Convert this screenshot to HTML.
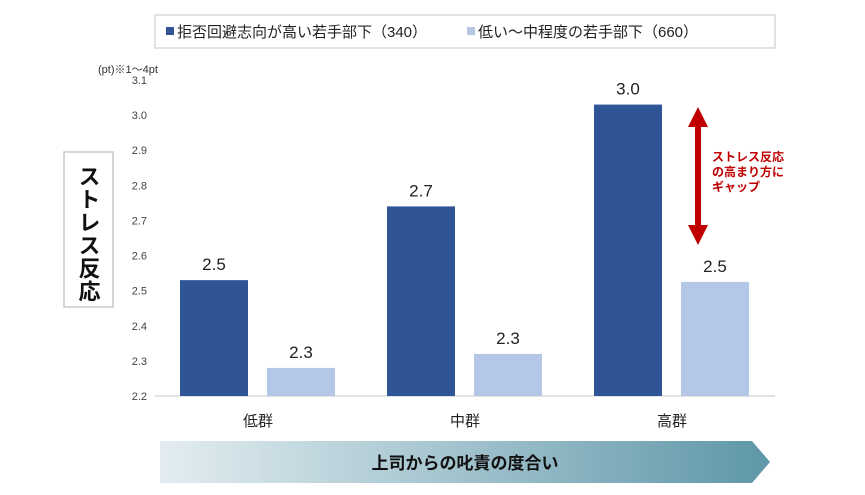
<!DOCTYPE html>
<html><head><meta charset="utf-8">
<style>
html,body{margin:0;padding:0;background:#fff;}
body{width:865px;height:490px;overflow:hidden;font-family:"Liberation Sans","Noto Sans CJK JP",sans-serif;}
svg text{font-family:"Liberation Sans","Noto Sans CJK JP",sans-serif;}
</style></head><body>
<svg id="chart" width="865" height="490" viewBox="0 0 865 490">
<defs>
<linearGradient id="grad" x1="0" x2="1" y1="0" y2="0">
<stop offset="0" stop-color="#e3edf1"/><stop offset="1" stop-color="#5e97a8"/>
</linearGradient>
</defs>
<g>
<rect x="155" y="15" width="620" height="33" fill="#fff" stroke="#d9d9d9" stroke-width="1.5"/>
<rect x="166" y="27" width="8" height="8" fill="#2f5597"/>
<text x="177" y="37" font-size="15" fill="#222">拒否回避志向が高い若手部下（340）</text>
<rect x="467" y="27" width="8" height="8" fill="#b4c7e7"/>
<text x="478" y="37" font-size="15" fill="#222">低い～中程度の若手部下（660）</text>
</g>
<text x="98" y="73" font-size="11" fill="#333">(pt)※1～4pt</text>
<g>
<rect x="64" y="152" width="49" height="155" fill="#fff" stroke="#c8c8c8" stroke-width="1.5"/>
<text x="88" y="165" font-size="22" font-weight="bold" fill="#111" style="writing-mode:vertical-rl;" dominant-baseline="central" text-anchor="start" letter-spacing="1">ストレス反応</text>
</g>
<g id="yaxis"></g>
<g id="bars"></g>
<g>
<line x1="698" y1="125" x2="698" y2="228" stroke="#c00000" stroke-width="6"/>
<polygon points="698,107 688,127 708,127" fill="#c00000"/>
<polygon points="698,245 688,225 708,225" fill="#c00000"/>
<text font-size="12" font-weight="bold" fill="#c00000">
<tspan x="712" y="161">ストレス反応</tspan><tspan x="712" y="176">の高まり方に</tspan><tspan x="712" y="191">ギャップ</tspan></text>
</g>
<g>
<polygon points="160,441 752,441 770,462 752,483 160,483" fill="url(#grad)"/>
<text x="465" y="469" font-size="17" font-weight="bold" fill="#111" text-anchor="middle">上司からの叱責の度合い</text>
</g>
</svg>
<script>
const categories = ["低群","中群","高群"];
const highValues = [2.53, 2.74, 3.03];
const lowValues = [2.28, 2.32, 2.525];
const highLabels = ["2.5","2.7","3.0"];
const lowLabels = ["2.3","2.3","2.5"];
const yTicks = [2.2,2.3,2.4,2.5,2.6,2.7,2.8,2.9,3.0,3.1];
const yMin = 2.2, yMax = 3.1;
const NS = "http://www.w3.org/2000/svg";
function y(v){ return 396 - (v - yMin) / (yMax - yMin) * 316; }
function xCenter(i){ return 258 + i * 207; }
function mk(tag, attrs, parent){ const e = document.createElementNS(NS, tag); for (const k in attrs) e.setAttribute(k, attrs[k]); parent.appendChild(e); return e; }
const ya = document.getElementById("yaxis");
yTicks.forEach(t => {
  const tx = mk("text", {x:147, y:y(t)+4, "font-size":11, fill:"#444", "text-anchor":"end"}, ya);
  tx.textContent = t.toFixed(1);
  
  
});
const bars = document.getElementById("bars");
const base = mk("line", {x1:155, x2:775, y1:y(yMin), y2:y(yMin), stroke:"#d9d9d9", "stroke-width":1.5}, bars);


categories.forEach((c, i) => {
  const cx = xCenter(i);
  const h = mk("rect", {x:cx-78, y:y(highValues[i]), width:68, height:y(yMin)-y(highValues[i]), fill:"#2f5597"}, bars);
  
  
  const l = mk("rect", {x:cx+9, y:y(lowValues[i]), width:68, height:y(yMin)-y(lowValues[i]), fill:"#b4c7e7"}, bars);
  
  
  const hl = mk("text", {x:cx-44, y:y(highValues[i])-10, "font-size":17, fill:"#222", "text-anchor":"middle"}, bars);
  hl.textContent = highLabels[i];
  
  
  const ll = mk("text", {x:cx+43, y:y(lowValues[i])-10, "font-size":17, fill:"#222", "text-anchor":"middle"}, bars);
  ll.textContent = lowLabels[i];
  
  
  const cl = mk("text", {x:cx, y:426, "font-size":15, fill:"#222", "text-anchor":"middle"}, bars);
  cl.textContent = c;
  
  
});
</script>
</body></html>
